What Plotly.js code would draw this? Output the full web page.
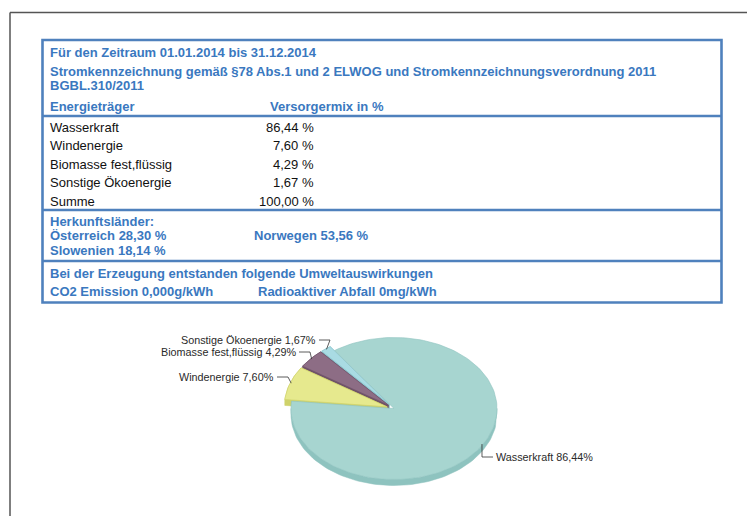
<!DOCTYPE html>
<html>
<head>
<meta charset="utf-8">
<script src="https://cdn.plot.ly/plotly-3.0.1.min.js"></script>
<style>
  html, body { margin: 0; padding: 0; background: #ffffff; }
  #chart { width: 747px; height: 516px; }
</style>
</head>
<body>
<div id="chart"></div>
<script>
// ---- Data: Stromkennzeichnung 2014 ----
const periodText = 'Für den Zeitraum 01.01.2014 bis 31.12.2014';
const regulationText = 'Stromkennzeichnung gemäß §78 Abs.1 und 2 ELWOG und Stromkennzeichnungsverordnung 2011';
const regulationRef = 'BGBL.310/2011';
const headerSource = 'Energieträger';
const headerMix = 'Versorgermix in %';
const sources = ['Wasserkraft', 'Windenergie', 'Biomasse fest,flüssig', 'Sonstige Ökoenergie'];
const shares = [86.44, 7.60, 4.29, 1.67];
const totalLabel = 'Summe';
const originTitle = 'Herkunftsländer:';
const originCountries = ['Österreich', 'Slowenien', 'Norwegen'];
const originShares = [28.30, 18.14, 53.56];
const impactTitle = 'Bei der Erzeugung entstanden folgende Umweltauswirkungen';
const impactLabels = ['CO2 Emission', 'Radioaktiver Abfall'];
const impactValues = ['0,000g/kWh', '0mg/kWh'];

// ---- Styling ----
const FONT = '"Liberation Sans", Arial, sans-serif';
const BLUE_LINE = '#4f81bd';
const BLUE_TEXT = '#3a78bf';
const sliceTop = ['#a7d5d0', '#e6e98e', '#8d6d85', '#a9dbe3'];
const sliceSide = ['#8ec3bf', '#cfd26a', '#6f5268', '#8cc4cd'];
const sliceExplode = [0, 0.07, 0.07, 0.07];

const fmt = (v) => v.toFixed(2).replace('.', ',');

const shapes = [];
const annotations = [];
const traces = [];

function text(x, y, str, opts) {
  annotations.push(Object.assign({
    x: x, y: y, xref: 'x', yref: 'y', text: str, showarrow: false,
    xanchor: 'left', yanchor: 'middle',
    font: { family: FONT, size: 13, color: '#111111' }
  }, opts || {}));
}
function blue(x, y, str, anchor) {
  text(x, y, str, { xanchor: anchor || 'left', font: { family: FONT, size: 13, color: BLUE_TEXT, weight: 700 } });
}
function line(x0, y0, x1, y1, color, width) {
  shapes.push({ type: 'line', xref: 'x', yref: 'y', x0, y0, x1, y1,
    line: { color: color, width: width } });
}

// ---- Page frame ----
line(10, 12.5, 747, 12.5, '#555555', 1.5);
line(10, 12.5, 10, 516, '#555555', 1.5);

// ---- Table ----
const tbl = { left: 42.5, right: 721.5, top: 40, bottom: 302.5 };
shapes.push({ type: 'rect', xref: 'x', yref: 'y', x0: tbl.left, x1: tbl.right, y0: tbl.top, y1: tbl.bottom,
  line: { color: BLUE_LINE, width: 2.6 } });
[116, 210, 261].forEach(y => line(tbl.left, y, tbl.right, y, BLUE_LINE, 2.6));

const colL = 48, colMix = 268, colVal = 315.5, colNor = 252, colWaste = 256;
blue(colL, 52.5, periodText);
blue(colL, 71.5, regulationText);
blue(colL, 85.5, regulationRef);
blue(colL, 106, headerSource);
blue(colMix, 106, headerMix);

const rowY = [127, 145.5, 164, 182.5, 201];
sources.forEach((s, i) => {
  text(colL, rowY[i], s);
  text(colVal, rowY[i], fmt(shares[i]) + ' %', { xanchor: 'right' });
});
const total = shares.reduce((a, b) => a + b, 0);
text(colL, rowY[4], totalLabel);
text(colVal, rowY[4], fmt(total) + ' %', { xanchor: 'right' });

blue(colL, 221, originTitle);
blue(colL, 235.5, originCountries[0] + ' ' + fmt(originShares[0]) + ' %');
blue(colL, 250, originCountries[1] + ' ' + fmt(originShares[1]) + ' %');
blue(colNor, 235.5, originCountries[2] + ' ' + fmt(originShares[2]) + ' %');

blue(colL, 273, impactTitle);
blue(colL, 291.5, impactLabels[0] + ' ' + impactValues[0]);
blue(colWaste, 291.5, impactLabels[1] + ' ' + impactValues[1]);

// ---- 3D pie (tilted ellipse) ----
const pie = { cx: 394, cy: 408.5, rx: 103, ry: 71, depth: 6, start: 125.2 };
const rad = (d) => d * Math.PI / 180;

function hull(pts) {
  const p = pts.slice().sort((a, b) => a[0] - b[0] || a[1] - b[1]);
  const cross = (o, a, b) => (a[0] - o[0]) * (b[1] - o[1]) - (a[1] - o[1]) * (b[0] - o[0]);
  const lower = [], upper = [];
  for (const q of p) { while (lower.length >= 2 && cross(lower[lower.length - 2], lower[lower.length - 1], q) <= 0) lower.pop(); lower.push(q); }
  for (let i = p.length - 1; i >= 0; i--) { const q = p[i]; while (upper.length >= 2 && cross(upper[upper.length - 2], upper[upper.length - 1], q) <= 0) upper.pop(); upper.push(q); }
  upper.pop(); lower.pop();
  return lower.concat(upper);
}
function polyTrace(pts, fill, edge, width) {
  const xs = pts.map(p => p[0]).concat([pts[0][0]]);
  const ys = pts.map(p => p[1]).concat([pts[0][1]]);
  return { type: 'scatter', mode: 'lines', x: xs, y: ys, fill: 'toself', fillcolor: fill,
    line: { color: edge, width: width }, hoverinfo: 'skip', showlegend: false };
}

// slice geometry, clockwise from the start angle
const slices = [];
let acc = pie.start;
shares.forEach((v, i) => {
  const a0 = acc, a1 = acc - v / total * 360;
  acc = a1;
  const mid = (a0 + a1) / 2;
  const ox = Math.cos(rad(mid)) * sliceExplode[i] * pie.rx;
  const oy = -Math.sin(rad(mid)) * sliceExplode[i] * pie.ry;
  const cx = pie.cx + ox, cy = pie.cy + oy;
  const arc = [];
  const n = Math.max(8, Math.ceil((a0 - a1) / 2));
  for (let k = 0; k <= n; k++) {
    const t = a0 - (a0 - a1) * k / n;
    arc.push([cx + Math.cos(rad(t)) * pie.rx, cy - Math.sin(rad(t)) * pie.ry, t]);
  }
  slices.push({ i, a0, a1, mid, cx, cy, arc });
});

// back slices first (small, exploded ones), then the large front slice
const order = slices.slice(1).reverse().concat([slices[0]]);
order.forEach(s => {
  const top = [[s.cx, s.cy]].concat(s.arc.map(p => [p[0], p[1]]));
  if (sliceExplode[s.i] > 0) {
    const ext = hull(top.concat(top.map(p => [p[0], p[1] + pie.depth])));
    traces.push(polyTrace(ext, sliceSide[s.i], sliceSide[s.i], 0.5));
  } else {
    // visible rim on the near half of the ellipse
    const lo = Math.max(s.a1, -180), hi = Math.min(s.a0, 0);
    if (hi > lo) {
      const rim = [];
      const n = Math.ceil((hi - lo) / 2);
      for (let k = 0; k <= n; k++) {
        const t = lo + (hi - lo) * k / n;
        rim.push([s.cx + Math.cos(rad(t)) * pie.rx, s.cy - Math.sin(rad(t)) * pie.ry]);
      }
      const band = rim.concat(rim.slice().reverse().map(p => [p[0], p[1] + pie.depth]));
      traces.push(polyTrace(band, sliceSide[s.i], sliceSide[s.i], 0.5));
    }
  }
  traces.push(polyTrace(top, sliceTop[s.i], sliceSide[s.i], 0.6));
});

// labels with leader lines
const labelSpots = [
  { x: 494, y: 457, side: 'left' },
  { x: 276, y: 377, side: 'right' },
  { x: 298, y: 352, side: 'right' },
  { x: 318, y: 340, side: 'right' }
];
slices.forEach(s => {
  const spot = labelSpots[s.i];
  const ax = s.cx + Math.cos(rad(s.mid)) * pie.rx * 0.99;
  const ay = s.cy - Math.sin(rad(s.mid)) * pie.ry * 0.99;
  let px, py;
  if (spot.side === 'right') {
    px = [spot.x + 1, spot.x + 12, ax];
    py = [spot.y, spot.y, ay];
  } else {
    px = [ax, spot.x - 12, spot.x - 1];
    py = [ay, spot.y, spot.y];
  }
  traces.push({ type: 'scatter', mode: 'lines', x: px, y: py,
    line: { color: '#333333', width: 0.8 }, hoverinfo: 'skip', showlegend: false });
  text(spot.x, spot.y, sources[s.i] + ' ' + fmt(shares[s.i]) + '%', {
    xanchor: spot.side === 'right' ? 'right' : 'left',
    font: { family: FONT, size: 10.8, color: '#2a2a2a' }
  });
});

const layout = {
  width: 747, height: 516,
  margin: { l: 0, r: 0, t: 0, b: 0, pad: 0 },
  paper_bgcolor: '#ffffff', plot_bgcolor: '#ffffff',
  xaxis: { range: [0, 747], visible: false, fixedrange: true },
  yaxis: { range: [516, 0], visible: false, fixedrange: true },
  showlegend: false,
  shapes: shapes,
  annotations: annotations
};

Plotly.newPlot('chart', traces, layout, { staticPlot: true, displayModeBar: false });
</script>
</body>
</html>
